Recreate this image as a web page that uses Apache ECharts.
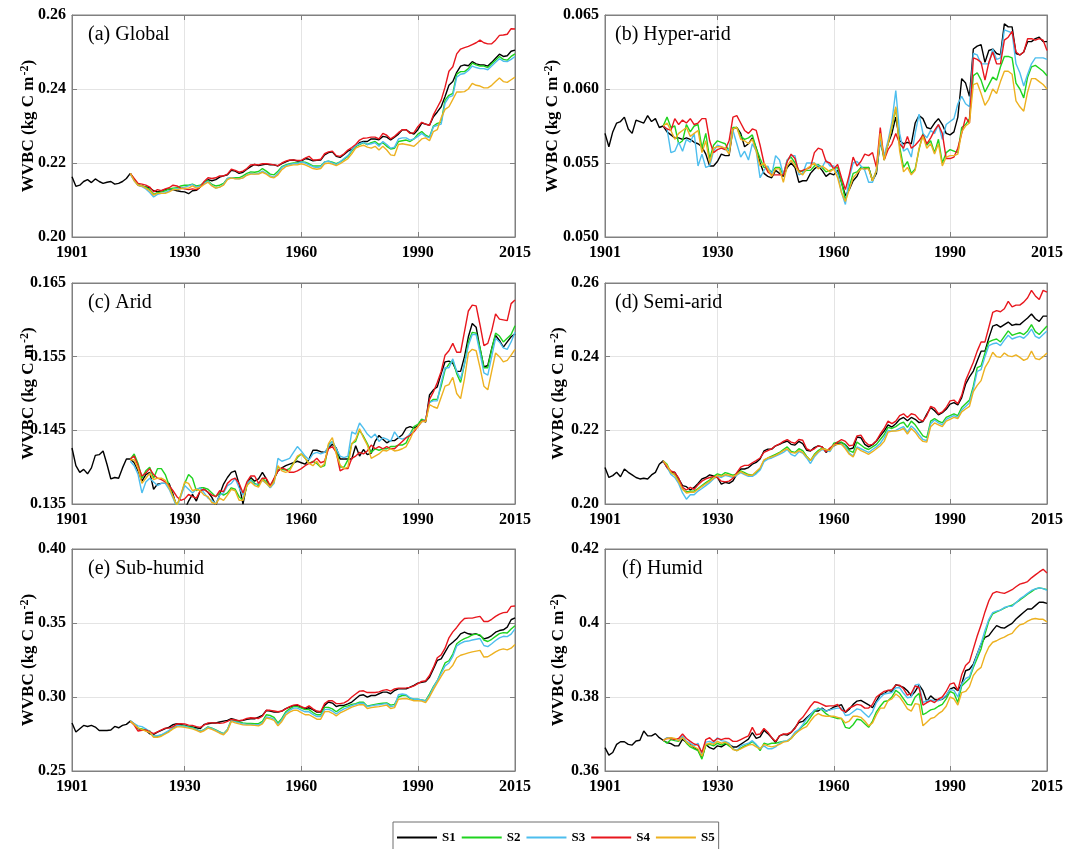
<!DOCTYPE html>
<html>
<head>
<meta charset="utf-8">
<title>WVBC by aridity zone, 1901-2015</title>
<script src="https://cdn.jsdelivr.net/npm/echarts@6/dist/echarts.min.js"></script>
<style>
  html, body { margin: 0; padding: 0; background: #ffffff; }
  #chart { width: 1067px; height: 849px; }
</style>
</head>
<body>
<div id="chart"></div>
<script>
// ---------------- data ----------------
// S1 runs 1901-2015, S2-S5 run 1916-2015 (annual values, kg C m-2)
const firstYearS1 = 1901;
const firstYearOthers = 1916;
const seriesNames = ['S1', 'S2', 'S3', 'S4', 'S5'];
const xTickValues = [1901, 1930, 1960, 1990, 2015];

// (a) Global
const globalTicks = ['0.20', '0.22', '0.24', '0.26'];
const globalS1 = [
  0.2163,0.2137,0.2140,0.2150,0.2155,0.2147,0.2157,0.2150,0.2145,0.2148,
  0.2150,0.2143,0.2145,0.2150,0.2158,0.2172,0.2155,0.2140,0.2138,0.2135,
  0.2133,0.2125,0.2122,0.2125,0.2128,0.2130,0.2128,0.2125,0.2123,0.2122,
  0.2117,0.2125,0.2126,0.2135,0.2145,0.2155,0.2152,0.2155,0.2162,0.2165,
  0.2168,0.2180,0.2178,0.2172,0.2175,0.2183,0.2190,0.2196,0.2193,0.2195,
  0.2197,0.2195,0.2195,0.2192,0.2198,0.2203,0.2207,0.2208,0.2205,0.2205,
  0.2212,0.2210,0.2206,0.2207,0.2208,0.2222,0.2228,0.2230,0.2218,0.2215,
  0.2223,0.2232,0.2237,0.2245,0.2255,0.2258,0.2258,0.2265,0.2265,0.2263,
  0.2272,0.2270,0.2262,0.2270,0.2278,0.2290,0.2290,0.2282,0.2278,0.2290,
  0.2308,0.2305,0.2302,0.2325,0.2338,0.2352,0.2380,0.2410,0.2420,0.2445,
  0.2462,0.2465,0.2463,0.2474,0.2468,0.2465,0.2465,0.2462,0.2472,0.2483,
  0.2494,0.2488,0.2490,0.2502,0.2505
];
const globalS2 = [
  0.2172,0.2155,0.2142,0.2138,0.2135,
  0.2128,0.2115,0.2120,0.2122,0.2125,0.2130,0.2132,0.2133,0.2138,0.2140,
  0.2140,0.2143,0.2138,0.2140,0.2148,0.2152,0.2142,0.2138,0.2140,0.2145,
  0.2158,0.2160,0.2160,0.2160,0.2165,0.2172,0.2176,0.2175,0.2177,0.2185,
  0.2178,0.2170,0.2168,0.2178,0.2190,0.2195,0.2198,0.2200,0.2200,0.2203,
  0.2202,0.2198,0.2192,0.2192,0.2192,0.2203,0.2205,0.2202,0.2198,0.2203,
  0.2210,0.2218,0.2232,0.2245,0.2250,0.2255,0.2250,0.2255,0.2258,0.2250,
  0.2255,0.2245,0.2238,0.2240,0.2258,0.2260,0.2262,0.2258,0.2265,0.2278,
  0.2285,0.2275,0.2270,0.2300,0.2307,0.2310,0.2370,0.2383,0.2388,0.2440,
  0.2447,0.2447,0.2455,0.2470,0.2465,0.2462,0.2462,0.2458,0.2468,0.2478,
  0.2488,0.2480,0.2478,0.2488,0.2495
];
const globalS3 = [
  0.2170,0.2152,0.2140,0.2136,0.2130,
  0.2120,0.2108,0.2115,0.2118,0.2120,0.2125,0.2128,0.2130,0.2132,0.2135,
  0.2138,0.2142,0.2135,0.2138,0.2145,0.2150,0.2140,0.2132,0.2135,0.2142,
  0.2158,0.2160,0.2158,0.2157,0.2160,0.2168,0.2172,0.2170,0.2172,0.2178,
  0.2172,0.2165,0.2162,0.2172,0.2188,0.2193,0.2196,0.2198,0.2198,0.2203,
  0.2200,0.2195,0.2190,0.2188,0.2190,0.2203,0.2205,0.2200,0.2196,0.2203,
  0.2212,0.2220,0.2235,0.2247,0.2252,0.2256,0.2250,0.2252,0.2255,0.2245,
  0.2258,0.2250,0.2240,0.2243,0.2265,0.2268,0.2268,0.2262,0.2265,0.2272,
  0.2280,0.2272,0.2268,0.2298,0.2302,0.2305,0.2362,0.2378,0.2382,0.2432,
  0.2440,0.2442,0.2450,0.2462,0.2458,0.2455,0.2455,0.2452,0.2462,0.2472,
  0.2482,0.2475,0.2474,0.2480,0.2488
];
const globalS4 = [
  0.2172,0.2158,0.2145,0.2143,0.2140,
  0.2135,0.2122,0.2128,0.2125,0.2130,0.2133,0.2140,0.2138,0.2132,0.2130,
  0.2128,0.2130,0.2128,0.2135,0.2150,0.2160,0.2158,0.2160,0.2165,0.2165,
  0.2170,0.2183,0.2180,0.2175,0.2178,0.2185,0.2195,0.2196,0.2195,0.2198,
  0.2198,0.2197,0.2195,0.2193,0.2200,0.2205,0.2208,0.2208,0.2207,0.2207,
  0.2213,0.2218,0.2208,0.2208,0.2210,0.2225,0.2230,0.2232,0.2220,0.2218,
  0.2225,0.2235,0.2242,0.2250,0.2262,0.2267,0.2268,0.2270,0.2270,0.2265,
  0.2280,0.2275,0.2265,0.2272,0.2282,0.2290,0.2290,0.2280,0.2282,0.2298,
  0.2310,0.2305,0.2302,0.2330,0.2350,0.2370,0.2405,0.2448,0.2460,0.2495,
  0.2508,0.2512,0.2515,0.2520,0.2525,0.2532,0.2525,0.2522,0.2522,0.2532,
  0.2545,0.2546,0.2548,0.2563,0.2562
];
const globalS5 = [
  0.2172,0.2152,0.2140,0.2138,0.2132,
  0.2125,0.2113,0.2118,0.2118,0.2118,0.2122,0.2128,0.2128,0.2130,0.2132,
  0.2132,0.2138,0.2132,0.2135,0.2142,0.2148,0.2138,0.2132,0.2135,0.2140,
  0.2155,0.2160,0.2157,0.2157,0.2160,0.2167,0.2170,0.2170,0.2170,0.2175,
  0.2170,0.2162,0.2160,0.2168,0.2182,0.2190,0.2193,0.2195,0.2195,0.2198,
  0.2195,0.2190,0.2185,0.2183,0.2185,0.2198,0.2200,0.2197,0.2193,0.2198,
  0.2205,0.2212,0.2225,0.2240,0.2245,0.2248,0.2243,0.2240,0.2245,0.2235,
  0.2245,0.2235,0.2222,0.2220,0.2250,0.2252,0.2250,0.2248,0.2245,0.2255,
  0.2265,0.2268,0.2260,0.2285,0.2290,0.2322,0.2345,0.2352,0.2372,0.2392,
  0.2392,0.2393,0.2400,0.2415,0.2410,0.2408,0.2403,0.2403,0.2410,0.2420,
  0.2430,0.2420,0.2418,0.2425,0.2432
];

// (b) Hyper-arid
const hyperTicks = ['0.050', '0.055', '0.060', '0.065'];
const hyperS1 = [
  0.0570,0.0561,0.0571,0.0577,0.0578,0.0581,0.0573,0.0570,0.0579,0.0578,
  0.0577,0.0582,0.0578,0.0580,0.0574,0.0575,0.0571,0.0569,0.0567,0.0567,
  0.0566,0.0567,0.0566,0.0564,0.0563,0.0561,0.0556,0.0548,0.0548,0.0551,
  0.0556,0.0555,0.0555,0.0573,0.0574,0.0570,0.0561,0.0563,0.0567,0.0560,
  0.0550,0.0543,0.0541,0.0540,0.0545,0.0543,0.0541,0.0547,0.0550,0.0547,
  0.0537,0.0538,0.0538,0.0543,0.0546,0.0548,0.0545,0.0541,0.0543,0.0542,
  0.0545,0.0537,0.0528,0.0532,0.0538,0.0541,0.0547,0.0546,0.0547,0.0538,
  0.0543,0.0565,0.0554,0.0563,0.0570,0.0581,0.0565,0.0563,0.0564,0.0563,
  0.0577,0.0582,0.0580,0.0574,0.0573,0.0577,0.0580,0.0576,0.0570,0.0569,
  0.0571,0.0581,0.0607,0.0604,0.0595,0.0627,0.0629,0.0630,0.0618,0.0626,
  0.0627,0.0624,0.0623,0.0644,0.0642,0.0642,0.0624,0.0623,0.0625,0.0632,
  0.0632,0.0634,0.0635,0.0632,0.0632
];
const hyperS2 = [
  0.0575,0.0581,0.0574,0.0575,0.0563,
  0.0565,0.0576,0.0571,0.0575,0.0576,0.0560,0.0570,0.0553,0.0562,0.0565,
  0.0564,0.0563,0.0558,0.0574,0.0574,0.0568,0.0566,0.0567,0.0569,0.0560,
  0.0553,0.0547,0.0546,0.0544,0.0547,0.0547,0.0542,0.0552,0.0554,0.0550,
  0.0545,0.0544,0.0545,0.0545,0.0548,0.0549,0.0547,0.0544,0.0545,0.0546,
  0.0547,0.0537,0.0525,0.0534,0.0543,0.0544,0.0547,0.0547,0.0547,0.0538,
  0.0545,0.0566,0.0552,0.0563,0.0574,0.0587,0.0561,0.0547,0.0551,0.0543,
  0.0546,0.0559,0.0570,0.0562,0.0565,0.0557,0.0566,0.0550,0.0557,0.0559,
  0.0558,0.0557,0.0574,0.0576,0.0580,0.0609,0.0611,0.0606,0.0598,0.0603,
  0.0608,0.0606,0.0615,0.0622,0.0622,0.0621,0.0604,0.0600,0.0594,0.0608,
  0.0615,0.0616,0.0614,0.0612,0.0609
];
const hyperS3 = [
  0.0575,0.0573,0.0557,0.0558,0.0564,
  0.0558,0.0566,0.0564,0.0570,0.0548,0.0556,0.0547,0.0548,0.0558,0.0562,
  0.0561,0.0559,0.0559,0.0572,0.0563,0.0554,0.0558,0.0552,0.0563,0.0558,
  0.0540,0.0545,0.0548,0.0542,0.0555,0.0552,0.0542,0.0552,0.0555,0.0555,
  0.0542,0.0543,0.0550,0.0550,0.0550,0.0548,0.0547,0.0552,0.0548,0.0548,
  0.0543,0.0530,0.0522,0.0540,0.0550,0.0551,0.0548,0.0545,0.0537,0.0537,
  0.0545,0.0565,0.0555,0.0565,0.0578,0.0599,0.0570,0.0558,0.0560,0.0554,
  0.0570,0.0583,0.0570,0.0567,0.0572,0.0570,0.0576,0.0566,0.0576,0.0578,
  0.0580,0.0590,0.0595,0.0590,0.0588,0.0624,0.0623,0.0617,0.0617,0.0617,
  0.0627,0.0620,0.0621,0.0640,0.0639,0.0638,0.0617,0.0611,0.0602,0.0610,
  0.0617,0.0621,0.0621,0.0621,0.0620
];
const hyperS4 = [
  0.0575,0.0573,0.0572,0.0580,0.0576,
  0.0579,0.0577,0.0580,0.0576,0.0577,0.0580,0.0580,0.0565,0.0557,0.0559,
  0.0560,0.0559,0.0565,0.0581,0.0582,0.0577,0.0572,0.0570,0.0573,0.0572,
  0.0562,0.0550,0.0544,0.0542,0.0542,0.0542,0.0542,0.0551,0.0556,0.0553,
  0.0544,0.0545,0.0546,0.0547,0.0557,0.0560,0.0559,0.0551,0.0550,0.0546,
  0.0549,0.0540,0.0532,0.0542,0.0554,0.0548,0.0551,0.0556,0.0555,0.0557,
  0.0547,0.0574,0.0552,0.0559,0.0563,0.0570,0.0563,0.0560,0.0568,0.0560,
  0.0562,0.0565,0.0569,0.0563,0.0567,0.0572,0.0576,0.0570,0.0553,0.0553,
  0.0554,0.0560,0.0570,0.0581,0.0577,0.0621,0.0620,0.0618,0.0606,0.0618,
  0.0625,0.0617,0.0617,0.0633,0.0635,0.0639,0.0625,0.0623,0.0625,0.0634,
  0.0634,0.0633,0.0634,0.0633,0.0626
];
const hyperS5 = [
  0.0575,0.0577,0.0572,0.0566,0.0570,
  0.0572,0.0574,0.0568,0.0570,0.0572,0.0557,0.0565,0.0550,0.0560,0.0561,
  0.0561,0.0560,0.0556,0.0573,0.0574,0.0566,0.0565,0.0563,0.0566,0.0558,
  0.0548,0.0550,0.0546,0.0541,0.0546,0.0546,0.0537,0.0548,0.0552,0.0548,
  0.0544,0.0542,0.0546,0.0548,0.0550,0.0546,0.0548,0.0546,0.0544,0.0546,
  0.0540,0.0530,0.0524,0.0532,0.0540,0.0543,0.0546,0.0546,0.0546,0.0538,
  0.0545,0.0570,0.0552,0.0563,0.0575,0.0588,0.0558,0.0544,0.0547,0.0542,
  0.0545,0.0560,0.0568,0.0560,0.0563,0.0556,0.0563,0.0548,0.0554,0.0555,
  0.0555,0.0556,0.0571,0.0575,0.0577,0.0603,0.0604,0.0597,0.0589,0.0593,
  0.0600,0.0597,0.0605,0.0612,0.0612,0.0610,0.0592,0.0588,0.0585,0.0598,
  0.0607,0.0607,0.0605,0.0603,0.0600
];

// (c) Arid
const aridTicks = ['0.135', '0.145', '0.155', '0.165'];
const aridS1 = [
  0.1426,0.1402,0.1393,0.1397,0.1391,0.1399,0.1416,0.1417,0.1422,0.1404,
  0.1384,0.1386,0.1385,0.1399,0.1411,0.1411,0.1406,0.1395,0.1381,0.1390,
  0.1393,0.1370,0.1377,0.1378,0.1378,0.1378,0.1363,0.1345,0.1340,0.1342,
  0.1354,0.1363,0.1354,0.1368,0.1370,0.1366,0.1359,0.1348,0.1363,0.1377,
  0.1386,0.1393,0.1395,0.1377,0.1350,0.1377,0.1386,0.1381,0.1384,0.1393,
  0.1384,0.1372,0.1384,0.1395,0.1399,0.1402,0.1404,0.1406,0.1408,0.1406,
  0.1404,0.1411,0.1423,0.1423,0.1421,0.1420,0.1426,0.1431,0.1426,0.1411,
  0.1411,0.1411,0.1411,0.1429,0.1415,0.1424,0.1417,0.1419,0.1435,0.1443,
  0.1438,0.1433,0.1436,0.1436,0.1440,0.1444,0.1453,0.1455,0.1453,0.1456,
  0.1465,0.1461,0.1498,0.1505,0.1509,0.1527,0.1543,0.1544,0.1541,0.1530,
  0.1530,0.1550,0.1577,0.1595,0.1590,0.1561,0.1536,0.1538,0.1561,0.1579,
  0.1572,0.1563,0.1570,0.1577,0.1581
];
const aridS2 = [
  0.1411,0.1418,0.1405,0.1385,0.1395,
  0.1400,0.1385,0.1398,0.1398,0.1390,0.1375,0.1360,0.1348,0.1362,0.1378,
  0.1390,0.1385,0.1368,0.1372,0.1372,0.1370,0.1365,0.1360,0.1365,0.1362,
  0.1365,0.1372,0.1370,0.1360,0.1355,0.1375,0.1383,0.1378,0.1375,0.1385,
  0.1380,0.1375,0.1382,0.1400,0.1397,0.1396,0.1398,0.1405,0.1413,0.1418,
  0.1412,0.1405,0.1408,0.1405,0.1400,0.1402,0.1430,0.1435,0.1425,0.1400,
  0.1400,0.1410,0.1432,0.1435,0.1450,0.1442,0.1432,0.1420,0.1425,0.1423,
  0.1425,0.1425,0.1428,0.1428,0.1430,0.1430,0.1433,0.1445,0.1455,0.1458,
  0.1465,0.1463,0.1488,0.1492,0.1492,0.1510,0.1532,0.1540,0.1545,0.1527,
  0.1515,0.1540,0.1570,0.1583,0.1582,0.1562,0.1535,0.1535,0.1560,0.1582,
  0.1578,0.1570,0.1575,0.1580,0.1592
];
const aridS3 = [
  0.1408,0.1402,0.1390,0.1365,0.1380,
  0.1385,0.1380,0.1375,0.1378,0.1378,0.1370,0.1358,0.1345,0.1360,0.1375,
  0.1370,0.1365,0.1370,0.1372,0.1365,0.1358,0.1355,0.1350,0.1362,0.1365,
  0.1375,0.1378,0.1385,0.1372,0.1362,0.1378,0.1382,0.1376,0.1378,0.1382,
  0.1378,0.1372,0.1378,0.1412,0.1408,0.1410,0.1412,0.1420,0.1428,0.1422,
  0.1415,0.1410,0.1418,0.1420,0.1418,0.1420,0.1428,0.1435,0.1425,0.1415,
  0.1413,0.1415,0.1448,0.1445,0.1460,0.1453,0.1445,0.1440,0.1445,0.1435,
  0.1440,0.1438,0.1435,0.1448,0.1440,0.1438,0.1440,0.1445,0.1450,0.1455,
  0.1462,0.1465,0.1488,0.1490,0.1490,0.1515,0.1535,0.1535,0.1547,0.1530,
  0.1520,0.1540,0.1565,0.1580,0.1580,0.1555,0.1528,0.1525,0.1550,0.1575,
  0.1570,0.1562,0.1560,0.1570,0.1583
];
const aridS4 = [
  0.1411,0.1415,0.1402,0.1388,0.1392,
  0.1398,0.1390,0.1385,0.1383,0.1380,0.1375,0.1368,0.1360,0.1355,0.1357,
  0.1363,0.1360,0.1358,0.1368,0.1370,0.1366,0.1362,0.1360,0.1368,0.1367,
  0.1378,0.1383,0.1385,0.1378,0.1365,0.1380,0.1388,0.1388,0.1378,0.1385,
  0.1385,0.1375,0.1385,0.1395,0.1399,0.1397,0.1393,0.1393,0.1395,0.1398,
  0.1402,0.1405,0.1407,0.1412,0.1406,0.1408,0.1425,0.1428,0.1420,0.1395,
  0.1398,0.1398,0.1412,0.1415,0.1420,0.1418,0.1422,0.1430,0.1425,0.1428,
  0.1425,0.1428,0.1425,0.1425,0.1430,0.1435,0.1440,0.1443,0.1448,0.1455,
  0.1462,0.1463,0.1492,0.1502,0.1515,0.1530,0.1552,0.1558,0.1568,0.1556,
  0.1556,0.1584,0.1612,0.1620,0.1619,0.1593,0.1565,0.1568,0.1585,0.1608,
  0.1601,0.1600,0.1599,0.1622,0.1627
];
const aridS5 = [
  0.1410,0.1410,0.1398,0.1378,0.1385,
  0.1392,0.1383,0.1385,0.1385,0.1382,0.1372,0.1360,0.1348,0.1362,0.1380,
  0.1378,0.1368,0.1370,0.1368,0.1362,0.1360,0.1352,0.1350,0.1358,0.1355,
  0.1362,0.1370,0.1368,0.1355,0.1355,0.1375,0.1380,0.1375,0.1373,0.1383,
  0.1378,0.1373,0.1380,0.1402,0.1395,0.1393,0.1395,0.1405,0.1415,0.1418,
  0.1412,0.1405,0.1402,0.1408,0.1400,0.1405,0.1432,0.1440,0.1418,0.1403,
  0.1398,0.1400,0.1432,0.1438,0.1452,0.1440,0.1430,0.1412,0.1415,0.1418,
  0.1423,0.1422,0.1425,0.1422,0.1423,0.1425,0.1428,0.1438,0.1450,0.1455,
  0.1462,0.1462,0.1485,0.1482,0.1480,0.1495,0.1510,0.1512,0.1522,0.1500,
  0.1493,0.1520,0.1555,0.1560,0.1558,0.1535,0.1510,0.1505,0.1530,0.1555,
  0.1550,0.1543,0.1545,0.1552,0.1560
];

// (d) Semi-arid
const semiTicks = ['0.20', '0.22', '0.24', '0.26'];
const semiS1 = [
  0.2099,0.2072,0.2077,0.2086,0.2074,0.2095,0.2086,0.2079,0.2072,0.2068,
  0.2070,0.2068,0.2079,0.2086,0.2108,0.2117,0.2099,0.2086,0.2086,0.2068,
  0.2050,0.2047,0.2038,0.2045,0.2056,0.2068,0.2072,0.2079,0.2076,0.2072,
  0.2054,0.2059,0.2056,0.2063,0.2081,0.2095,0.2095,0.2099,0.2108,0.2113,
  0.2122,0.2144,0.2149,0.2149,0.2158,0.2162,0.2167,0.2171,0.2162,0.2160,
  0.2170,0.2164,0.2146,0.2144,0.2153,0.2158,0.2155,0.2140,0.2149,0.2158,
  0.2164,0.2167,0.2161,0.2149,0.2152,0.2182,0.2180,0.2162,0.2155,0.2161,
  0.2171,0.2185,0.2198,0.2215,0.2209,0.2218,0.2230,0.2235,0.2226,0.2235,
  0.2230,0.2221,0.2224,0.2244,0.2262,0.2253,0.2242,0.2248,0.2257,0.2271,
  0.2275,0.2269,0.2289,0.2325,0.2345,0.2361,0.2388,0.2415,0.2415,0.2451,
  0.2483,0.2487,0.2480,0.2487,0.2494,0.2485,0.2488,0.2487,0.2496,0.2505,
  0.2516,0.2503,0.2496,0.2510,0.2510
];
const semiS2 = [
  0.2117,0.2108,0.2085,0.2080,0.2065,
  0.2040,0.2033,0.2035,0.2035,0.2042,0.2050,0.2058,0.2065,0.2075,0.2082,
  0.2078,0.2085,0.2082,0.2078,0.2082,0.2090,0.2085,0.2080,0.2078,0.2085,
  0.2095,0.2118,0.2125,0.2130,0.2135,0.2140,0.2148,0.2155,0.2143,0.2140,
  0.2150,0.2145,0.2130,0.2118,0.2135,0.2145,0.2152,0.2148,0.2145,0.2165,
  0.2168,0.2168,0.2160,0.2145,0.2140,0.2168,0.2160,0.2152,0.2148,0.2155,
  0.2162,0.2175,0.2188,0.2208,0.2205,0.2210,0.2218,0.2222,0.2208,0.2225,
  0.2215,0.2200,0.2185,0.2180,0.2225,0.2232,0.2225,0.2220,0.2235,0.2240,
  0.2245,0.2240,0.2262,0.2272,0.2282,0.2320,0.2370,0.2375,0.2410,0.2440,
  0.2445,0.2448,0.2440,0.2455,0.2470,0.2458,0.2462,0.2465,0.2460,0.2470,
  0.2487,0.2468,0.2460,0.2472,0.2483
];
const semiS3 = [
  0.2117,0.2100,0.2080,0.2072,0.2055,
  0.2030,0.2013,0.2025,0.2025,0.2035,0.2042,0.2050,0.2058,0.2068,0.2075,
  0.2072,0.2078,0.2075,0.2072,0.2078,0.2085,0.2080,0.2075,0.2075,0.2082,
  0.2092,0.2115,0.2122,0.2125,0.2130,0.2135,0.2140,0.2148,0.2135,0.2130,
  0.2142,0.2138,0.2125,0.2110,0.2128,0.2140,0.2148,0.2145,0.2142,0.2160,
  0.2162,0.2162,0.2155,0.2138,0.2130,0.2155,0.2150,0.2145,0.2140,0.2148,
  0.2155,0.2165,0.2180,0.2200,0.2198,0.2200,0.2205,0.2210,0.2195,0.2212,
  0.2202,0.2188,0.2175,0.2172,0.2218,0.2228,0.2220,0.2215,0.2230,0.2235,
  0.2240,0.2235,0.2255,0.2265,0.2275,0.2312,0.2360,0.2365,0.2400,0.2430,
  0.2435,0.2437,0.2430,0.2445,0.2458,0.2448,0.2452,0.2455,0.2450,0.2460,
  0.2475,0.2455,0.2450,0.2460,0.2470
];
const semiS4 = [
  0.2117,0.2100,0.2090,0.2085,0.2070,
  0.2045,0.2038,0.2045,0.2040,0.2052,0.2062,0.2068,0.2072,0.2075,0.2072,
  0.2062,0.2060,0.2062,0.2070,0.2085,0.2100,0.2105,0.2105,0.2112,0.2118,
  0.2125,0.2140,0.2145,0.2150,0.2158,0.2163,0.2170,0.2175,0.2168,0.2165,
  0.2175,0.2173,0.2150,0.2145,0.2150,0.2158,0.2155,0.2142,0.2152,0.2160,
  0.2168,0.2175,0.2170,0.2158,0.2160,0.2185,0.2187,0.2170,0.2160,0.2162,
  0.2172,0.2190,0.2205,0.2225,0.2218,0.2225,0.2240,0.2245,0.2235,0.2245,
  0.2242,0.2230,0.2225,0.2240,0.2265,0.2260,0.2245,0.2250,0.2262,0.2280,
  0.2282,0.2272,0.2295,0.2335,0.2360,0.2385,0.2415,0.2440,0.2440,0.2480,
  0.2520,0.2525,0.2522,0.2530,0.2550,0.2535,0.2540,0.2540,0.2548,0.2560,
  0.2580,0.2565,0.2555,0.2580,0.2575
];
const semiS5 = [
  0.2117,0.2105,0.2085,0.2078,0.2060,
  0.2040,0.2030,0.2032,0.2032,0.2040,0.2048,0.2055,0.2062,0.2070,0.2078,
  0.2075,0.2080,0.2078,0.2075,0.2080,0.2088,0.2082,0.2078,0.2078,0.2088,
  0.2098,0.2120,0.2125,0.2128,0.2132,0.2138,0.2145,0.2150,0.2140,0.2138,
  0.2145,0.2140,0.2128,0.2118,0.2132,0.2142,0.2150,0.2148,0.2145,0.2160,
  0.2162,0.2162,0.2150,0.2135,0.2128,0.2152,0.2145,0.2140,0.2135,0.2142,
  0.2150,0.2158,0.2170,0.2195,0.2198,0.2198,0.2200,0.2205,0.2190,0.2205,
  0.2195,0.2180,0.2170,0.2168,0.2210,0.2220,0.2215,0.2210,0.2225,0.2230,
  0.2235,0.2232,0.2250,0.2258,0.2265,0.2305,0.2322,0.2335,0.2370,0.2388,
  0.2412,0.2400,0.2398,0.2410,0.2402,0.2400,0.2405,0.2398,0.2390,0.2395,
  0.2415,0.2395,0.2392,0.2400,0.2410
];

// (e) Sub-humid
const subTicks = ['0.25', '0.30', '0.35', '0.40'];
const subS1 = [
  0.2824,0.2763,0.2786,0.2808,0.2801,0.2808,0.2797,0.2774,0.2774,0.2774,
  0.2777,0.2801,0.2792,0.2808,0.2815,0.2837,0.2819,0.2786,0.2779,0.2774,
  0.2752,0.2747,0.2763,0.2774,0.2786,0.2797,0.2813,0.2819,0.2815,0.2808,
  0.2801,0.2797,0.2792,0.2786,0.2815,0.2819,0.2824,0.2824,0.2831,0.2837,
  0.2842,0.2853,0.2846,0.2837,0.2842,0.2849,0.2853,0.2853,0.2864,0.2876,
  0.2909,0.2905,0.2898,0.2898,0.2905,0.2921,0.2932,0.2941,0.2943,0.2932,
  0.2921,0.2927,0.2914,0.2898,0.2898,0.2943,0.2966,0.2959,0.2936,0.2943,
  0.2943,0.2954,0.2966,0.2988,0.3010,0.3015,0.2999,0.3010,0.3010,0.3022,
  0.3033,0.3033,0.3022,0.3044,0.3055,0.3055,0.3055,0.3067,0.3078,0.3094,
  0.3100,0.3105,0.3134,0.3190,0.3247,0.3258,0.3303,0.3348,0.3370,0.3393,
  0.3427,0.3438,0.3427,0.3422,0.3427,0.3415,0.3393,0.3400,0.3415,0.3438,
  0.3449,0.3454,0.3472,0.3522,0.3534
];
const subS2 = [
  0.2837,0.2815,0.2790,0.2785,0.2778,
  0.2770,0.2735,0.2735,0.2742,0.2755,0.2770,0.2790,0.2805,0.2808,0.2805,
  0.2800,0.2795,0.2782,0.2770,0.2780,0.2798,0.2790,0.2778,0.2765,0.2752,
  0.2780,0.2845,0.2838,0.2830,0.2825,0.2822,0.2822,0.2820,0.2820,0.2835,
  0.2880,0.2875,0.2862,0.2825,0.2855,0.2900,0.2920,0.2935,0.2935,0.2925,
  0.2915,0.2915,0.2895,0.2880,0.2880,0.2930,0.2930,0.2920,0.2900,0.2920,
  0.2935,0.2940,0.2950,0.2955,0.2965,0.2965,0.2938,0.2945,0.2950,0.2955,
  0.2958,0.2960,0.2945,0.2950,0.3000,0.3010,0.3010,0.2990,0.2985,0.2985,
  0.2980,0.2975,0.3020,0.3070,0.3110,0.3170,0.3230,0.3245,0.3290,0.3360,
  0.3380,0.3395,0.3405,0.3420,0.3425,0.3420,0.3385,0.3375,0.3390,0.3410,
  0.3428,0.3435,0.3432,0.3460,0.3482
];
const subS3 = [
  0.2840,0.2820,0.2805,0.2800,0.2785,
  0.2765,0.2735,0.2738,0.2745,0.2760,0.2775,0.2795,0.2808,0.2805,0.2803,
  0.2795,0.2790,0.2780,0.2768,0.2778,0.2795,0.2788,0.2775,0.2762,0.2750,
  0.2778,0.2840,0.2832,0.2825,0.2818,0.2815,0.2815,0.2812,0.2812,0.2825,
  0.2865,0.2860,0.2850,0.2815,0.2845,0.2890,0.2910,0.2925,0.2925,0.2912,
  0.2900,0.2900,0.2882,0.2868,0.2868,0.2915,0.2918,0.2905,0.2885,0.2905,
  0.2920,0.2930,0.2942,0.2950,0.2958,0.2958,0.2935,0.2940,0.2945,0.2948,
  0.2952,0.2955,0.2935,0.2940,0.3015,0.3020,0.3015,0.2995,0.2985,0.2985,
  0.2980,0.2972,0.3010,0.3065,0.3110,0.3160,0.3210,0.3230,0.3275,0.3345,
  0.3362,0.3375,0.3378,0.3385,0.3390,0.3395,0.3348,0.3340,0.3360,0.3382,
  0.3400,0.3410,0.3408,0.3425,0.3460
];
const subS4 = [
  0.2837,0.2810,0.2770,0.2775,0.2778,
  0.2765,0.2752,0.2765,0.2778,0.2790,0.2790,0.2800,0.2818,0.2820,0.2818,
  0.2810,0.2808,0.2800,0.2795,0.2810,0.2825,0.2825,0.2825,0.2822,0.2825,
  0.2835,0.2848,0.2845,0.2840,0.2845,0.2855,0.2860,0.2858,0.2855,0.2870,
  0.2910,0.2910,0.2905,0.2900,0.2905,0.2920,0.2935,0.2945,0.2948,0.2935,
  0.2925,0.2940,0.2920,0.2905,0.2900,0.2955,0.2975,0.2975,0.2955,0.2955,
  0.2960,0.2975,0.3000,0.3020,0.3040,0.3042,0.3030,0.3030,0.3030,0.3035,
  0.3045,0.3050,0.3040,0.3055,0.3060,0.3060,0.3062,0.3065,0.3075,0.3090,
  0.3105,0.3110,0.3145,0.3200,0.3265,0.3285,0.3330,0.3400,0.3440,0.3470,
  0.3505,0.3530,0.3533,0.3533,0.3540,0.3545,0.3510,0.3510,0.3525,0.3545,
  0.3560,0.3570,0.3573,0.3612,0.3615
];
const subS5 = [
  0.2837,0.2815,0.2790,0.2780,0.2770,
  0.2760,0.2728,0.2728,0.2735,0.2750,0.2765,0.2785,0.2798,0.2798,0.2795,
  0.2790,0.2785,0.2775,0.2762,0.2772,0.2790,0.2782,0.2770,0.2755,0.2745,
  0.2772,0.2835,0.2825,0.2818,0.2812,0.2810,0.2810,0.2808,0.2805,0.2818,
  0.2858,0.2852,0.2842,0.2805,0.2835,0.2878,0.2898,0.2910,0.2910,0.2895,
  0.2880,0.2880,0.2865,0.2850,0.2850,0.2900,0.2903,0.2890,0.2872,0.2892,
  0.2905,0.2918,0.2932,0.2940,0.2948,0.2948,0.2922,0.2928,0.2932,0.2935,
  0.2940,0.2945,0.2922,0.2928,0.2985,0.2988,0.2990,0.2982,0.2975,0.2975,
  0.2972,0.2962,0.3000,0.3050,0.3095,0.3140,0.3180,0.3185,0.3215,0.3265,
  0.3282,0.3290,0.3298,0.3305,0.3310,0.3315,0.3270,0.3272,0.3288,0.3305,
  0.3318,0.3325,0.3318,0.3330,0.3355
];

// (f) Humid
const humidTicks = ['0.36', '0.38', '0.4', '0.42'];
const humidS1 = [
  0.3663,0.3643,0.3650,0.3672,0.3679,0.3679,0.3672,0.3670,0.3681,0.3683,
  0.3708,0.3695,0.3695,0.3701,0.3690,0.3683,0.3677,0.3674,0.3668,0.3668,
  0.3686,0.3677,0.3672,0.3663,0.3656,0.3636,0.3672,0.3663,0.3659,0.3668,
  0.3665,0.3672,0.3672,0.3665,0.3665,0.3672,0.3679,0.3686,0.3704,0.3688,
  0.3692,0.3710,0.3701,0.3690,0.3677,0.3695,0.3699,0.3697,0.3704,0.3717,
  0.3731,0.3734,0.3744,0.3753,0.3762,0.3762,0.3770,0.3762,0.3766,0.3773,
  0.3776,0.3779,0.3758,0.3767,0.3780,0.3789,0.3791,0.3785,0.3779,0.3771,
  0.3789,0.3807,0.3809,0.3818,0.3815,0.3833,0.3830,0.3826,0.3817,0.3803,
  0.3815,0.3833,0.3817,0.3788,0.3803,0.3794,0.3792,0.3794,0.3803,0.3821,
  0.3826,0.3817,0.3835,0.3871,0.3875,0.3889,0.3916,0.3943,0.3961,0.3966,
  0.3980,0.3993,0.3988,0.3986,0.3993,0.3999,0.4011,0.4020,0.4029,0.4038,
  0.4038,0.4047,0.4056,0.4056,0.4053
];
const humidS2 = [
  0.3683,0.3675,0.3685,0.3682,0.3680,
  0.3692,0.3675,0.3665,0.3660,0.3655,0.3632,0.3670,0.3672,0.3668,0.3675,
  0.3670,0.3675,0.3668,0.3660,0.3655,0.3662,0.3668,0.3672,0.3680,0.3670,
  0.3655,0.3675,0.3672,0.3675,0.3675,0.3678,0.3680,0.3680,0.3688,0.3700,
  0.3710,0.3722,0.3730,0.3745,0.3760,0.3770,0.3765,0.3755,0.3748,0.3745,
  0.3742,0.3742,0.3718,0.3715,0.3725,0.3740,0.3738,0.3728,0.3718,0.3735,
  0.3760,0.3775,0.3788,0.3790,0.3800,0.3818,0.3810,0.3795,0.3780,0.3778,
  0.3800,0.3810,0.3752,0.3758,0.3765,0.3768,0.3775,0.3780,0.3795,0.3815,
  0.3810,0.3785,0.3830,0.3840,0.3850,0.3880,0.3905,0.3930,0.3970,0.4005,
  0.4025,0.4030,0.4035,0.4040,0.4045,0.4048,0.4055,0.4062,0.4070,0.4078,
  0.4085,0.4092,0.4095,0.4093,0.4090
];
const humidS3 = [
  0.3683,0.3690,0.3690,0.3685,0.3683,
  0.3695,0.3680,0.3675,0.3668,0.3675,0.3645,0.3678,0.3680,0.3675,0.3690,
  0.3682,0.3680,0.3675,0.3660,0.3655,0.3668,0.3672,0.3675,0.3682,0.3672,
  0.3660,0.3668,0.3660,0.3660,0.3665,0.3675,0.3680,0.3682,0.3690,0.3705,
  0.3712,0.3725,0.3740,0.3752,0.3765,0.3768,0.3768,0.3762,0.3765,0.3768,
  0.3770,0.3770,0.3750,0.3752,0.3760,0.3768,0.3765,0.3755,0.3745,0.3760,
  0.3785,0.3798,0.3808,0.3810,0.3812,0.3825,0.3825,0.3810,0.3798,0.3800,
  0.3832,0.3835,0.3785,0.3790,0.3792,0.3790,0.3790,0.3795,0.3805,0.3820,
  0.3818,0.3800,0.3835,0.3850,0.3855,0.3885,0.3915,0.3945,0.3980,0.4010,
  0.4028,0.4032,0.4035,0.4042,0.4045,0.4045,0.4055,0.4065,0.4072,0.4080,
  0.4088,0.4092,0.4095,0.4093,0.4088
];
const humidS4 = [
  0.3683,0.3688,0.3688,0.3685,0.3688,
  0.3700,0.3688,0.3680,0.3673,0.3670,0.3650,0.3685,0.3690,0.3680,0.3688,
  0.3685,0.3688,0.3688,0.3680,0.3680,0.3685,0.3690,0.3695,0.3718,0.3698,
  0.3700,0.3715,0.3705,0.3690,0.3680,0.3695,0.3700,0.3700,0.3705,0.3715,
  0.3735,0.3745,0.3760,0.3775,0.3787,0.3785,0.3780,0.3775,0.3776,0.3776,
  0.3780,0.3765,0.3760,0.3770,0.3775,0.3780,0.3778,0.3770,0.3770,0.3780,
  0.3800,0.3808,0.3815,0.3818,0.3820,0.3832,0.3832,0.3822,0.3805,0.3810,
  0.3830,0.3825,0.3778,0.3785,0.3790,0.3785,0.3795,0.3800,0.3815,0.3835,
  0.3838,0.3818,0.3860,0.3885,0.3895,0.3930,0.3965,0.3995,0.4030,0.4060,
  0.4080,0.4085,0.4082,0.4080,0.4085,0.4090,0.4098,0.4105,0.4108,0.4112,
  0.4122,0.4130,0.4138,0.4145,0.4135
];
const humidS5 = [
  0.3683,0.3688,0.3690,0.3688,0.3682,
  0.3690,0.3678,0.3670,0.3665,0.3660,0.3640,0.3672,0.3675,0.3672,0.3680,
  0.3675,0.3678,0.3672,0.3658,0.3655,0.3660,0.3665,0.3670,0.3672,0.3665,
  0.3660,0.3672,0.3668,0.3665,0.3668,0.3672,0.3678,0.3680,0.3688,0.3700,
  0.3708,0.3715,0.3720,0.3735,0.3748,0.3755,0.3750,0.3748,0.3748,0.3748,
  0.3745,0.3742,0.3730,0.3735,0.3748,0.3748,0.3745,0.3735,0.3722,0.3730,
  0.3752,0.3770,0.3770,0.3790,0.3795,0.3808,0.3800,0.3785,0.3768,0.3762,
  0.3782,0.3780,0.3722,0.3732,0.3742,0.3745,0.3755,0.3762,0.3775,0.3800,
  0.3795,0.3778,0.3812,0.3815,0.3828,0.3858,0.3872,0.3880,0.3912,0.3935,
  0.3948,0.3952,0.3958,0.3962,0.3968,0.3972,0.3985,0.3995,0.3998,0.4005,
  0.4010,0.4012,0.4010,0.4010,0.4003
];

// ---------------- panels ----------------
const panels = [
  { title: '(a) Global',     ticks: globalTicks, data: [globalS1, globalS2, globalS3, globalS4, globalS5] },
  { title: '(b) Hyper-arid', ticks: hyperTicks,  data: [hyperS1, hyperS2, hyperS3, hyperS4, hyperS5] },
  { title: '(c) Arid',       ticks: aridTicks,   data: [aridS1, aridS2, aridS3, aridS4, aridS5] },
  { title: '(d) Semi-arid',  ticks: semiTicks,   data: [semiS1, semiS2, semiS3, semiS4, semiS5] },
  { title: '(e) Sub-humid',  ticks: subTicks,    data: [subS1, subS2, subS3, subS4, subS5] },
  { title: '(f) Humid',      ticks: humidTicks,  data: [humidS1, humidS2, humidS3, humidS4, humidS5] }
];

const lineColors = ['#000000', '#1fd31f', '#4dbeee', '#e8161d', '#edb120'];
const serif = 'Liberation Serif, "Times New Roman", serif';
const boxColor = '#808080';
const gridLineColor = '#e4e4e4';

const colLeft = [72, 605];
const colWidth = [443, 442];
const rowTop = [15, 283, 549];
const rowHeight = [222, 221, 222];
const titleLeft = [[88, 615], [88, 615], [88, 622]];
// distance of the rotated axis title from each panel's y axis
const nameGaps = [34, 43, 34, 37, 34, 37];

function toPairs(startYear, values) {
  return values.map((v, i) => [startYear + i, v]);
}

const grids = [], xAxes = [], yAxes = [], series = [], titles = [];

panels.forEach((p, i) => {
  const col = i % 2, row = Math.floor(i / 2);
  const tickVals = p.ticks.map(Number);
  grids.push({
    left: colLeft[col], top: rowTop[row], width: colWidth[col], height: rowHeight[row],
    show: true, borderColor: boxColor, borderWidth: 1, backgroundColor: '#ffffff'
  });
  titles.push({
    text: p.title, left: titleLeft[row][col], top: rowTop[row] + 10, padding: 0,
    textStyle: { fontFamily: serif, fontSize: 20, fontWeight: 'normal', color: '#000' }
  });
  // bottom and top x axes
  xAxes.push({
    type: 'value', gridIndex: i, min: 1901, max: 2015, position: 'bottom',
    axisLine: { show: true, lineStyle: { color: boxColor } },
    axisTick: { show: true, inside: true, length: 5, customValues: xTickValues, lineStyle: { color: boxColor } },
    axisLabel: { show: true, customValues: xTickValues, margin: 8, color: '#000',
      fontFamily: serif, fontSize: 16, fontWeight: 'bold', formatter: v => String(v) },
    splitLine: { show: true, lineStyle: { color: gridLineColor, width: 1 } }
  });
  xAxes.push({
    type: 'value', gridIndex: i, min: 1901, max: 2015, position: 'top',
    axisLine: { show: true, lineStyle: { color: boxColor } },
    axisTick: { show: true, inside: true, length: 5, customValues: xTickValues, lineStyle: { color: boxColor } },
    axisLabel: { show: false }, splitLine: { show: false }
  });
  // left and right y axes
  yAxes.push({
    type: 'value', gridIndex: i, min: tickVals[0], max: tickVals[tickVals.length - 1], position: 'left',
    axisLine: { show: true, lineStyle: { color: boxColor } },
    axisTick: { show: true, inside: true, length: 5, customValues: tickVals, lineStyle: { color: boxColor } },
    axisLabel: { show: true, customValues: tickVals, margin: 6, color: '#000',
      fontFamily: serif, fontSize: 16, fontWeight: 'bold',
      formatter: v => {
        const k = tickVals.findIndex(t => Math.abs(t - v) < 1e-9);
        return k >= 0 ? p.ticks[k] : '';
      } },
    splitLine: { show: true, lineStyle: { color: gridLineColor, width: 1 } },
    name: 'WVBC (kg C m{sup|-2})',
    nameLocation: 'middle', nameGap: nameGaps[i], nameRotate: 90, nameMoveOverlap: false,
    nameTextStyle: { fontFamily: serif, fontSize: 17, fontWeight: 'bold', color: '#000',
      rich: { sup: { fontFamily: serif, fontSize: 12, fontWeight: 'bold', color: '#000',
        verticalAlign: 'top', padding: [0, 0, 7, 1] } } }
  });
  yAxes.push({
    type: 'value', gridIndex: i, min: tickVals[0], max: tickVals[tickVals.length - 1], position: 'right',
    axisLine: { show: true, lineStyle: { color: boxColor } },
    axisTick: { show: true, inside: true, length: 5, customValues: tickVals, lineStyle: { color: boxColor } },
    axisLabel: { show: false }, splitLine: { show: false }
  });
  p.data.forEach((vals, s) => {
    series.push({
      type: 'line', name: seriesNames[s], xAxisIndex: i * 2, yAxisIndex: i * 2,
      data: toPairs(s === 0 ? firstYearS1 : firstYearOthers, vals),
      symbol: 'none', clip: true, silent: true,
      lineStyle: { width: 1.4, color: lineColors[s] },
      itemStyle: { color: lineColors[s] }
    });
  });
});

const chart = echarts.init(document.getElementById('chart'), null, { renderer: 'canvas' });
chart.setOption({
  animation: false,
  backgroundColor: '#ffffff',
  title: titles,
  grid: grids,
  xAxis: xAxes,
  yAxis: yAxes,
  legend: {
    data: seriesNames.map(n => ({ name: n, icon: 'rect' })),
    left: 393, top: 822, orient: 'horizontal',
    itemWidth: 40, itemHeight: 2, itemGap: 6,
    padding: [9, 4, 11, 4],
    borderColor: '#6e6e6e', borderWidth: 1, backgroundColor: '#ffffff',
    textStyle: { fontFamily: serif, fontSize: 13, fontWeight: 'bold', color: '#000' }
  },
  series: series
});
</script>
</body>
</html>
